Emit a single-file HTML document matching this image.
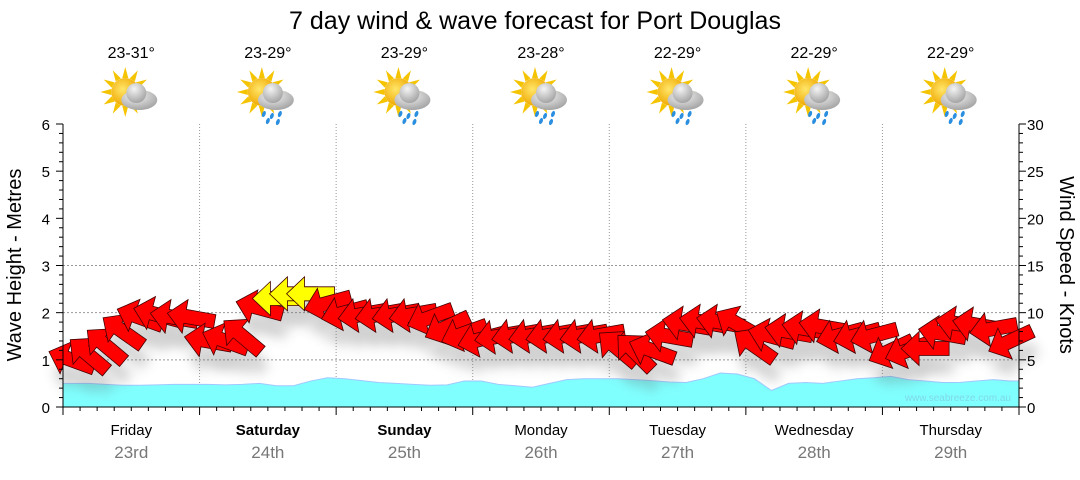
<!DOCTYPE html>
<html><head><meta charset="utf-8"><style>
body{margin:0;background:#fff;}
svg text{font-family:"Liberation Sans","DejaVu Sans",sans-serif;}
</style></head><body>
<svg id="c" width="1080" height="475" xmlns="http://www.w3.org/2000/svg">
<defs>
<filter id="sh" x="-50%" y="-50%" width="200%" height="200%"><feGaussianBlur stdDeviation="6"/></filter>
<radialGradient id="cl" cx="0.4" cy="0.3" r="0.8"><stop offset="0" stop-color="#f4f4f4"/><stop offset="1" stop-color="#9a9a9a"/></radialGradient>
<radialGradient id="sn" cx="0.4" cy="0.4" r="0.6"><stop offset="0" stop-color="#ffe66a"/><stop offset="1" stop-color="#f0a800"/></radialGradient>
</defs>
<text x="535" y="29" font-size="25" text-anchor="middle">7 day wind &amp; wave forecast for Port Douglas</text>
<g id="grid"></g>
<g id="wave"></g>
<g id="shadows" opacity="0.3"></g>
<g id="arrows"></g>
<g id="axes"></g>
<g id="days"></g>
<text x="1011" y="401" font-size="10" fill="#7fd8e8" text-anchor="end">www.seabreeze.com.au</text>
<text transform="translate(21,265) rotate(-90)" font-size="20" text-anchor="middle">Wave Height - Metres</text>
<text transform="translate(1060,265) rotate(90)" font-size="20" text-anchor="middle">Wind Speed - Knots</text>
</svg>
<script>
const dayNames=["Friday","Saturday","Sunday","Monday","Tuesday","Wednesday","Thursday"];
const dayDates=["23rd","24th","25th","26th","27th","28th","29th"];
const dayBold=[false,true,true,false,false,false,false];
const temps=["23-31°","23-29°","23-29°","23-28°","22-29°","22-29°","22-29°"];
const rainy=[false,true,true,true,true,true,true];
const windKnots=[5,5.5,6.5,8,9.5,9.8,9.5,9.5, 7,7,7.5,10.5,11.5,12,12,11, 10,9.8,9.8,9.8,9.8,9.5,8.5,7.8, 7.2,7.5,7.6,7.6,7.6,7.6,7.6,7.6, 6.2,5.8,6,7.5,8.8,9,9,8.8, 6.5,7.5,8,8.3,8.5,7.6,7.6,7.6, 6,6,6.2,7.8,8.8,8.7,8.3,7];
const windDir=[20,40,40,35,20,15,10,10, 10,20,40,15,0,0,0,-15, -15,-10,-10,-10,-10,-20,-25,-20, -15,-10,-10,-10,-10,-10,-10,-10, 40,45,20,10,10,10,10,30, 35,15,10,10,10,-15,-15,-15, -25,-20,0,10,10,10,-10,-25];
const waveM=[0.5,0.5,0.48,0.46,0.46,0.47,0.48,0.48, 0.48,0.47,0.48,0.5,0.45,0.45,0.55,0.62, 0.6,0.56,0.52,0.5,0.48,0.46,0.47,0.55, 0.55,0.48,0.45,0.42,0.5,0.58,0.6,0.6, 0.6,0.58,0.56,0.53,0.52,0.6,0.72,0.7, 0.6,0.35,0.5,0.52,0.5,0.55,0.6,0.62, 0.65,0.58,0.55,0.52,0.52,0.55,0.58,0.55];
const leftTicks=[0,1,2,3,4,5,6];
const rightTicks=[0,5,10,15,20,25,30];

const NS="http://www.w3.org/2000/svg";
const X0=63,X1=1019,Y0=407,Y1=124,DW=(X1-X0)/7;
const yM=v=>Y0-(v/6)*(Y0-Y1);
const yK=v=>Y0-(v/30)*(Y0-Y1);
const xI=i=>X0+(i+0.5)*DW/8;
function el(tag,attrs,parent,txt){const e=document.createElementNS(NS,tag);for(const k in attrs)e.setAttribute(k,attrs[k]);if(txt!==undefined)e.textContent=txt;parent.appendChild(e);return e;}
const grid=document.getElementById('grid'),axes=document.getElementById('axes'),days=document.getElementById('days');
for(let d=1;d<7;d++){const l=el('line',{x1:X0+d*DW,x2:X0+d*DW,y1:Y1,y2:Y0,stroke:'#999','stroke-dasharray':'1,2'},grid);

}
for(const t of [1,2,3]){const l=el('line',{x1:X0,x2:X1,y1:yM(t),y2:yM(t),stroke:'#999','stroke-dasharray':'2,2'},grid);

}
let p=`M${X0},${Y0} L${X0},${yM(waveM[0])}`;waveM.forEach((v,i)=>p+=` L${xI(i)},${yM(v)}`);p+=` L${X1},${yM(waveM[waveM.length-1])} L${X1},${Y0} Z`;
const wa=el('path',{d:p,fill:'#80ffff',stroke:'#a0c8ff'},document.getElementById('wave'));


el('line',{x1:X0,x2:X0,y1:Y1,y2:Y0,stroke:'#000'},axes);el('line',{x1:X1,x2:X1,y1:Y1,y2:Y0,stroke:'#000'},axes);el('line',{x1:X0,x2:X1,y1:Y0,y2:Y0,stroke:'#000'},axes);
for(let m=0;m<=30;m++){const y=yM(m/5);el('line',{x1:X0-(m%5?4:7),x2:X0,y1:y,y2:y,stroke:'#000'},axes);el('line',{x1:X1,x2:X1+(m%5?4:7),y1:y,y2:y,stroke:'#000'},axes);}
leftTicks.forEach(t=>{const tx=el('text',{x:50,y:yM(t)+6,'font-size':15,'text-anchor':'end'},axes,String(t));

});
rightTicks.forEach(t=>{const tx=el('text',{x:1027,y:yK(t)+6,'font-size':15},axes,String(t));

});
for(let k=0;k<=56;k++){const x=X0+k*DW/8;el('line',{x1:x,x2:x,y1:Y0,y2:Y0+(k%8?4:8),stroke:'#000'},axes);}
dayNames.forEach((n,d)=>{const cx=X0+(d+0.5)*DW;
const a=el('text',{x:cx,y:435,'font-size':15,'text-anchor':'middle','font-weight':dayBold[d]?'bold':'normal'},days,n);


const b=el('text',{x:cx,y:458,'font-size':17,'text-anchor':'middle',fill:'#777'},days,dayDates[d]);


const t=el('text',{x:cx,y:58,'font-size':16,'text-anchor':'middle'},days,temps[d]);


const g=el('g',{transform:`translate(${cx+2},96)`},days);


for(let r=0;r<12;r++){const an=r*30;el('polygon',{points:'-3,-14 3,-14 0,-25',fill:'#f5c400',transform:`translate(-8,-4) rotate(${an})`},g);}
el('circle',{cx:-8,cy:-4,r:14,fill:'url(#sn)'},g);
el('ellipse',{cx:6,cy:4,rx:18,ry:10,fill:'url(#cl)'},g);el('circle',{cx:3,cy:-3,r:10,fill:'url(#cl)'},g);
if(rainy[d]){[[-6,18],[2,20],[10,18],[-2,25],[8,26]].forEach(q=>el('ellipse',{cx:q[0],cy:q[1],rx:1.8,ry:3.2,fill:'#2b8fe0',transform:`rotate(20 ${q[0]} ${q[1]})`},g));}
});
const ar=document.getElementById('arrows'),sh=document.getElementById('shadows');
const shape='M-24,0 L-6,-17 L-6,-7 L24,-7 L24,7 L-6,7 L-6,17 Z';
windKnots.forEach((v,i)=>{const x=xI(i),y=yK(v);
el('path',{d:shape,fill:'#666',filter:'url(#sh)',transform:`translate(${x+4},${y+18}) rotate(${windDir[i]})`},sh);
const a=el('path',{d:shape,fill:v>=11.5?'#ffff00':'#ff0000',stroke:'#400','stroke-width':0.8,transform:`translate(${x},${y}) rotate(${windDir[i]})`},ar);

});
</script>
</body></html>
